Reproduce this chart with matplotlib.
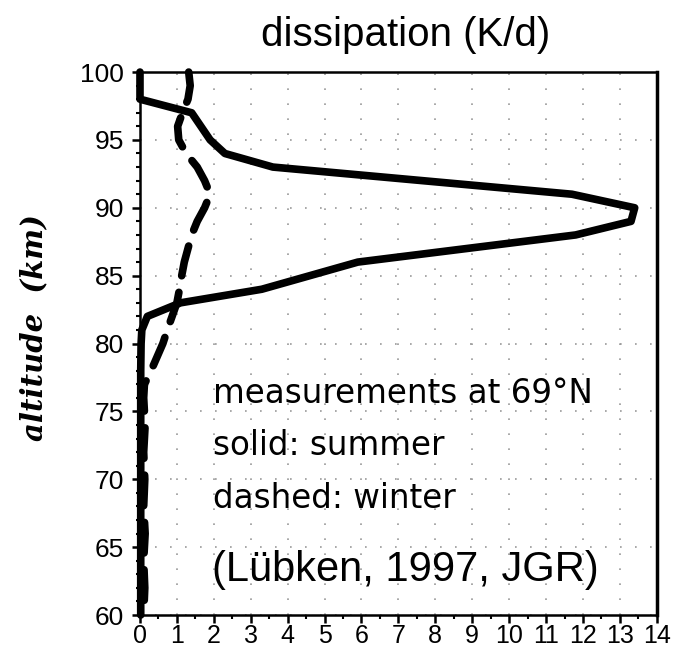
import matplotlib.pyplot as plt
from matplotlib.ticker import MultipleLocator

# summer profile (solid)
alt_summer = [100, 98, 97, 96, 95, 94, 93, 91, 90, 89, 88, 86, 84, 83, 82, 81,
              80, 78, 76, 74, 72, 70, 68, 66, 64, 62, 60]
diss_summer = [0.0, 0.0, 1.4, 1.65, 1.9, 2.3, 3.6, 11.7, 13.4, 13.3, 11.8, 5.9,
               3.3, 1.1, 0.2, 0.05, 0.03, 0.02, 0.02, 0.02, 0.02, 0.02, 0.02,
               0.02, 0.02, 0.02, 0.02]

# winter profile (dashed)
alt_winter = [100, 99, 98, 97, 96, 95, 94, 93, 92, 91, 90, 89, 88, 87, 86, 85,
              84, 83, 82, 81, 80, 79, 78, 77, 76, 74, 72, 70, 68, 66, 64, 62, 60]
diss_winter = [1.32, 1.36, 1.3, 1.15, 1.02, 1.05, 1.25, 1.55, 1.75, 1.9, 1.75,
               1.55, 1.4, 1.3, 1.2, 1.13, 1.07, 1.0, 0.87, 0.74, 0.62, 0.46,
               0.3, 0.12, 0.1, 0.14, 0.1, 0.13, 0.1, 0.14, 0.1, 0.13, 0.1]

xticks = list(range(0, 15))
yticks = [60, 65, 70, 75, 80, 85, 90, 95, 100]

notes = ["measurements at 69°N", "solid: summer", "dashed: winter"]
note_y = [76.3, 72.5, 68.6]

plt.rcParams["font.family"] = ["Liberation Sans", "DejaVu Sans"]

fig = plt.figure(figsize=(6.73, 6.52), dpi=100)
ax = fig.add_axes([0.208, 0.0567, 0.768, 0.8328])

ax.plot(diss_summer, alt_summer, color="black", lw=5.5, clip_on=False,
        solid_capstyle="round", solid_joinstyle="round", zorder=3)
ax.plot(diss_winter, alt_winter, color="black", lw=5.5, dashes=(4.0, 2.2),
        clip_on=False, dash_capstyle="round", dash_joinstyle="round", zorder=3)

ax.set_xlim(0, 14)
ax.set_ylim(60, 100)
ax.set_xticks(xticks, labels=[str(t) for t in xticks], fontsize=18)
ax.set_yticks(yticks, labels=[str(t) for t in yticks], fontsize=19)
ax.xaxis.set_minor_locator(MultipleLocator(0.5))
ax.yaxis.set_minor_locator(MultipleLocator(1))
ax.grid(True, which="major", color="#999999", linestyle=(0, (1, 8)), lw=1.2)
ax.set_axisbelow(True)

ax.tick_params(which="major", direction="out", length=5.5, width=1.8, pad=1)
ax.tick_params(which="minor", direction="out", length=3, width=1.5)
ax.tick_params(axis="y", which="major", pad=6)
for s in ax.spines.values():
    s.set_linewidth(1.8)
ax.spines["right"].set_linewidth(2.5)

for txt, y in zip(notes, note_y):
    ax.text(1.97, y, txt, fontsize=23.5, va="center", ha="left",
            family="DejaVu Sans")
ax.text(1.95, 63.3, "(Lübken, 1997, JGR)", fontsize=30, va="center",
        ha="left")

fig.text(0.603, 0.946, "dissipation (K/d)", fontsize=29, ha="center",
         va="center")
fig.text(0.05, 0.497, "altitude  (km)", fontsize=21, rotation=90,
         ha="center", va="center", family="DejaVu Serif", style="italic",
         weight="bold")

plt.savefig("out.png", dpi=100)
